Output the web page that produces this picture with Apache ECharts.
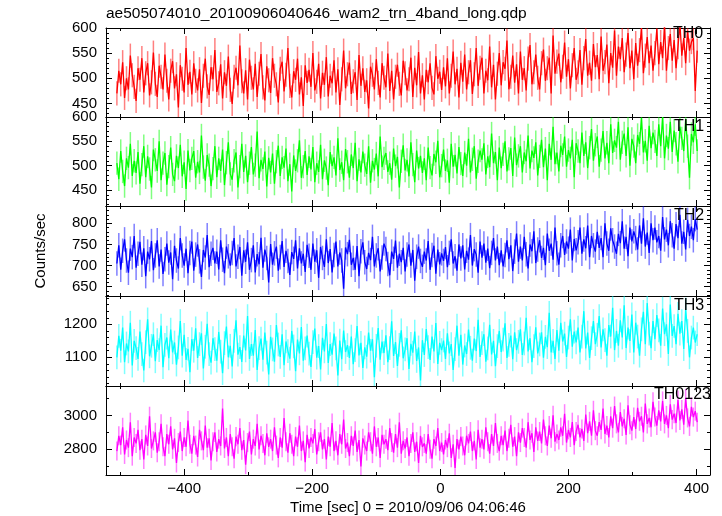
<!DOCTYPE html>
<html><head><meta charset="utf-8">
<script src="https://cdn.jsdelivr.net/npm/echarts@6/dist/echarts.min.js"></script>
<style>html,body{margin:0;padding:0;background:#fff}#c{width:722px;height:516px}</style>
</head><body><div id="c"></div><script>
// ---- data ----
const chartTitle = 'ae505074010_20100906040646_wam2_trn_4band_long.qdp';
const xTitle = 'Time [sec] 0 = 2010/09/06 04:06:46';
const yTitle = 'Counts/sec';
const panelNames = ['TH0', 'TH1', 'TH2', 'TH3', 'TH0123'];
const tStart = -505, tStep = 3;
const th0 = [
470,515,488,532,461,500,478,545,506,483, 455,520,497,540,472,510,530,466,492,551,
489,463,525,503,478,547,495,458,515,534, 480,508,442,526,499,472,560,487,513,468,
530,495,476,518,451,505,539,484,467,522, 498,556,473,490,528,460,512,485,543,477,
449,503,521,486,565,494,470,516,458,537, 501,478,529,463,509,548,482,456,524,496,
471,540,505,488,452,519,533,474,507,560, 485,462,514,497,539,468,502,445,526,491,
517,483,550,476,493,529,460,511,487,542, 464,505,490,536,472,518,447,498,555,480,
508,531,469,494,512,457,546,485,520,473, 496,440,523,507,478,538,491,462,530,501,
482,549,475,515,458,503,527,489,466,535, 510,476,498,541,463,521,486,552,470,506,
458,517,492,530,481,468,544,499,513,477, 522,484,540,470,505,553,488,519,462,531,
493,547,478,512,536,469,508,560,485,521, 541,470,515,496,563,482,527,458,509,550,
486,532,519,575,478,503,545,491,528,470, 553,497,520,476,539,566,488,512,547,501,
478,530,557,495,520,541,470,585,509,533, 549,492,523,571,503,538,480,526,560,497,
512,556,487,540,578,505,531,495,568,522, 546,498,583,515,532,567,490,550,521,595,
505,563,538,580,512,547,590,520,555,498, 570,525,556,600,510,545,582,530,565,515,
550,598,528,572,540,605,515,560,588,535, 576,520,562,610,545,580,530,595,555,572,
580,475,555];
const th1 = [
505,472,530,488,458,515,496,545,479,510, 485,528,463,502,540,476,519,493,455,533,
512,489,550,470,505,526,461,498,537,482, 468,520,495,543,478,507,452,531,490,515,
530,475,508,486,562,497,469,522,501,458, 494,540,476,515,489,533,460,506,548,483,
471,510,527,455,498,545,487,520,466,505, 538,482,501,570,474,512,493,529,457,516,
486,525,463,508,541,479,517,496,535,468, 503,447,521,489,510,552,475,498,530,481,
519,492,538,466,505,487,543,472,511,495, 460,528,499,517,480,556,491,507,470,534,
508,475,523,495,547,468,513,486,529,501, 483,540,465,510,492,525,478,560,497,515,
526,487,505,471,535,499,518,455,509,542, 490,512,478,548,502,466,531,494,520,485,
515,470,537,496,480,524,507,551,476,500, 533,489,511,465,545,498,522,484,538,504,
479,527,500,555,486,513,540,473,509,531, 512,546,482,519,497,566,505,528,470,537,
495,523,550,488,514,536,479,558,501,520, 540,486,527,509,562,494,531,516,548,480,
519,553,497,535,470,545,512,580,503,527, 488,541,522,560,498,532,515,553,476,546,
530,505,568,520,548,495,537,575,510,543, 560,498,532,571,515,547,505,585,526,552,
537,590,512,548,566,520,579,500,555,540, 505,563,545,598,527,551,510,582,536,568,
550,520,585,540,600,515,562,535,590,528, 572,545,508,580,556,530,595,540,475,565,
548,585,530];
const th2 = [
705,748,690,735,762,712,683,740,720,770, 695,728,756,702,741,675,733,715,758,689,
724,760,698,738,680,715,752,707,731,668, 747,712,693,765,724,700,740,682,730,757,
688,726,750,710,673,737,719,772,696,728, 742,705,733,691,760,714,682,745,722,700,
730,765,698,721,744,676,736,709,755,690, 713,748,684,727,703,766,695,738,718,660,
751,702,729,745,688,720,758,697,735,711, 678,732,716,760,693,741,705,728,685,749,
723,690,752,709,736,671,744,718,697,762, 706,739,684,725,757,698,731,712,645,743,
727,761,702,718,690,746,675,734,755,708, 692,730,713,768,698,724,741,686,719,752,
739,704,677,733,716,759,695,728,708,742, 686,726,750,700,737,664,721,745,711,697,
733,712,758,690,725,747,681,738,703,729, 711,744,696,730,762,705,722,688,750,717,
748,691,735,714,772,700,739,726,683,757, 719,752,707,740,694,730,765,712,745,701,
736,698,725,760,715,748,687,733,776,709, 745,712,768,727,693,750,734,781,706,738,
760,718,742,701,776,735,752,714,790,729, 702,748,770,725,757,740,785,712,763,736,
755,790,728,762,741,795,720,770,748,733, 780,742,765,720,800,752,735,788,760,745,
728,775,753,805,740,768,722,790,757,781, 765,738,795,752,812,745,778,730,800,760,
790,755,770,735,815,762,785,748,805,772, 740,798,765,820,752,780,738,808,770,792,
760,810,785];
const th3 = [
1100,1165,1120,1190,1085,1142,1118,1205,1075,1150, 1128,1095,1178,1110,1060,1146,1215,1103,1135,1170,
1088,1152,1122,1196,1070,1138,1160,1097,1184,1115, 1145,1078,1130,1210,1105,1168,1092,1126,1055,1155,
1120,1188,1098,1140,1173,1066,1132,1202,1110,1084, 1158,1125,1090,1177,1117,1052,1143,1193,1100,1135,
1072,1150,1212,1108,1131,1086,1166,1121,1225,1095, 1140,1105,1183,1062,1128,1157,1093,1175,1114,1048,
1162,1124,1087,1198,1139,1101,1170,1076,1148,1119, 1096,1180,1133,1058,1154,1112,1192,1090,1127,1166,
1111,1071,1146,1187,1099,1134,1063,1159,1118,1201, 1083,1140,1108,1172,1127,1045,1151,1094,1181,1116,
1137,1098,1163,1079,1122,1195,1106,1144,1068,1130, 1102,1175,1120,1155,1040,1135,1189,1093,1148,1113,
1167,1085,1128,1209,1104,1146,1074,1138,1182,1097, 1124,1158,1065,1141,1114,1178,1089,1130,1030,1152,
1107,1186,1131,1092,1163,1118,1204,1080,1144,1122, 1151,1095,1173,1112,1140,1062,1125,1196,1105,1168,
1078,1136,1110,1184,1129,1090,1157,1119,1214,1101, 1143,1170,1087,1127,1199,1109,1150,1073,1134,1180,
1116,1154,1203,1098,1138,1166,1094,1176,1122,1147, 1185,1107,1142,1220,1118,1158,1085,1134,1191,1112,
1139,1176,1099,1162,1131,1235,1115,1150,1095,1183, 1120,1205,1148,1172,1101,1160,1215,1132,1178,1145,
1190,1115,1163,1240,1127,1175,1098,1158,1210,1140, 1168,1225,1130,1185,1152,1105,1198,1163,1250,1122,
1180,1135,1212,1160,1258,1128,1190,1150,1230,1115, 1205,1163,1105,1185,1238,1140,1265,1172,1128,1210,
1155,1228,1182,1135,1248,1170,1200,1110,1260,1165, 1195,1140,1232,1172,1210,1125,1245,1180,1100,1160,
1190,1145,1170];
const th0123 = [
2790,2880,2825,2930,2770,2855,2810,2960,2760,2870, 2835,2915,2795,2860,2740,2885,2820,2995,2805,2850,
2900,2780,2845,2950,2815,2760,2890,2830,2935,2800, 2865,2720,2840,2905,2790,2870,2815,2970,2830,2775,
2880,2825,2755,2915,2850,2795,2940,2810,2865,2735, 2845,2900,2785,2860,2820,3040,2805,2870,2760,2890,
2815,2745,2875,2830,2925,2795,2855,2710,2840,2905, 2770,2860,2820,2950,2800,2880,2835,2765,2895,2815,
2860,2790,2930,2825,2750,2870,2810,2985,2845,2780, 2895,2830,2760,2875,2815,2940,2790,2850,2725,2885,
2805,2870,2835,2920,2770,2845,2900,2800,2860,2740, 2875,2815,2955,2790,2850,2765,2890,2830,2975,2805,
2840,2760,2880,2820,2910,2785,2855,2700,2865,2825, 2790,2900,2845,2775,2935,2815,2870,2750,2885,2830,
2860,2795,2925,2840,2780,2890,2810,2960,2775,2850, 2805,2870,2760,2835,2900,2785,2845,2720,2880,2815,
2835,2775,2890,2800,2745,2860,2820,2925,2790,2840, 2770,2855,2810,2895,2750,2830,2690,2860,2800,2875,
2820,2765,2880,2835,2905,2790,2850,2740,2915,2810, 2860,2800,2930,2845,2775,2890,2820,2955,2835,2790,
2880,2825,2910,2790,2865,2945,2815,2875,2760,2900, 2840,2925,2870,2810,2960,2855,2895,2785,2930,2850,
2905,2835,2975,2880,2820,2940,2865,3000,2845,2890, 2855,2930,2880,3010,2840,2915,2870,2960,2825,2905,
2945,2870,2920,2850,3005,2895,2965,2880,3030,2910, 2880,2960,2915,3040,2890,2940,2870,2995,2925,3055,
2950,2900,3020,2935,2980,2885,3060,2945,2910,2990, 2920,3045,2965,2995,2900,3070,2950,2985,2930,3080,
2990,2940,3030,2965,3085,2950,3000,2925,3065,2975, 3010,2955,3090,2970,3035,2945,3100,2985,2935,3050,
2990,3025,2960];
const panelErrors = [24, 24, 29, 36, 56];
const yMins = [423, 417, 628, 1013, 2649];
const yMaxs = [600, 600, 841, 1286, 3173];
const yLabelSteps = [50, 50, 50, 100, 200];
const xMin = -522, xMax = 421;

// ---- styles ----
const panelData = [th0, th1, th2, th3, th0123];
const colors = ['#ff0000', '#00ff00', '#0000ff', '#00ffff', '#ff00ff'];
const errColors = ['rgba(255,0,0,0.5)', 'rgba(0,255,0,0.5)', 'rgba(0,0,255,0.5)', 'rgba(0,255,255,0.5)', 'rgba(255,0,255,0.5)'];
const ySplit = [4, 4, 4, 3, 3];
const yMinorSplit = [5, 5, 5, 5, 2];
const tops = [28, 117, 206, 296, 386];
const heights = [89, 89, 90, 90, 90];
const labelLefts = [673, 674, 674, 674, 654];
const labelTops = [26, 119, 208, 298, 387];
const FONT = 'Liberation Sans';

const grids = [], xAxes = [], yAxes = [], series = [], titles = [];
titles.push({text: chartTitle, left: 106, top: 6, padding: 0,
  textStyle: {fontFamily: FONT, fontSize: 15.5, fontWeight: 'normal', color: '#000'}});
const axisLine = {show: true, onZero: false, lineStyle: {color: '#000', width: 1}};
for (let g = 0; g < 5; g++) {
  grids.push({left: 106, right: 12, top: tops[g], height: heights[g]});
  const last = g === 4;
  for (const pos of ['bottom', 'top']) {
    xAxes.push({
      gridIndex: g, type: 'value', min: xMin, max: xMax, position: pos, splitNumber: 5,
      axisLine: axisLine,
      axisTick: {show: true, inside: true, length: 6, lineStyle: {color: '#000'}},
      minorTick: {show: true, splitNumber: 2, length: 3, lineStyle: {color: '#000'}},
      axisLabel: {show: last && pos === 'bottom', margin: 6, fontSize: 15, color: '#000', fontFamily: FONT,
        formatter: v => (v % 200 === 0 ? String(v).replace('-', '\u2212') : '')},
      splitLine: {show: false}, minorSplitLine: {show: false},
      name: (last && pos === 'bottom') ? xTitle : '', nameLocation: 'middle', nameGap: 25,
      nameTextStyle: {fontFamily: FONT, fontSize: 15, color: '#000'}
    });
  }
  for (const pos of ['left', 'right']) {
    yAxes.push({
      gridIndex: g, type: 'value', min: yMins[g], max: yMaxs[g], position: pos, splitNumber: ySplit[g],
      axisLine: axisLine,
      axisTick: {show: true, inside: true, length: 6, lineStyle: {color: '#000'}},
      minorTick: {show: true, splitNumber: yMinorSplit[g], length: 3, lineStyle: {color: '#000'}},
      axisLabel: {show: pos === 'left', margin: 9, fontSize: 15, color: '#000', fontFamily: FONT,
        showMinLabel: true, showMaxLabel: true,
        formatter: v => (v % yLabelSteps[g] === 0 ? String(v) : '')},
      splitLine: {show: false}, minorSplitLine: {show: false},
      name: (g === 2 && pos === 'left') ? yTitle : '', nameLocation: 'middle', nameGap: 58,
      nameTextStyle: {fontFamily: FONT, fontSize: 15, color: '#000'}
    });
  }
  const vals = panelData[g];
  const times = vals.map((v, i) => tStart + i * tStep);
  const err = panelErrors[g];
  series.push({
    type: 'custom', xAxisIndex: 2 * g, yAxisIndex: 2 * g, clip: true, silent: true,
    data: vals.map((v, i) => [times[i], v, err]),
    renderItem: (params, api) => {
      const t = api.value(0), v = api.value(1), e = api.value(2);
      const a = api.coord([t, v - e]), b = api.coord([t, v + e]);
      return {type: 'line', shape: {x1: a[0], y1: a[1], x2: b[0], y2: b[1]},
        style: {stroke: errColors[g], lineWidth: 1.5}};
    }
  });
  series.push({
    type: 'line', xAxisIndex: 2 * g, yAxisIndex: 2 * g, showSymbol: false, symbol: 'none',
    data: vals.map((v, i) => [times[i], v]),
    lineStyle: {color: colors[g], width: 1.3}, itemStyle: {color: colors[g]}, silent: true
  });
  titles.push({text: panelNames[g], left: labelLefts[g], top: labelTops[g], padding: 0,
    textStyle: {fontFamily: FONT, fontSize: 16, fontWeight: 'normal', color: '#000'}});
}

const chart = echarts.init(document.getElementById('c'), null, {renderer: 'canvas'});
chart.setOption({
  animation: false, backgroundColor: '#fff',
  title: titles, grid: grids, xAxis: xAxes, yAxis: yAxes, series: series
});
</script></body></html>
